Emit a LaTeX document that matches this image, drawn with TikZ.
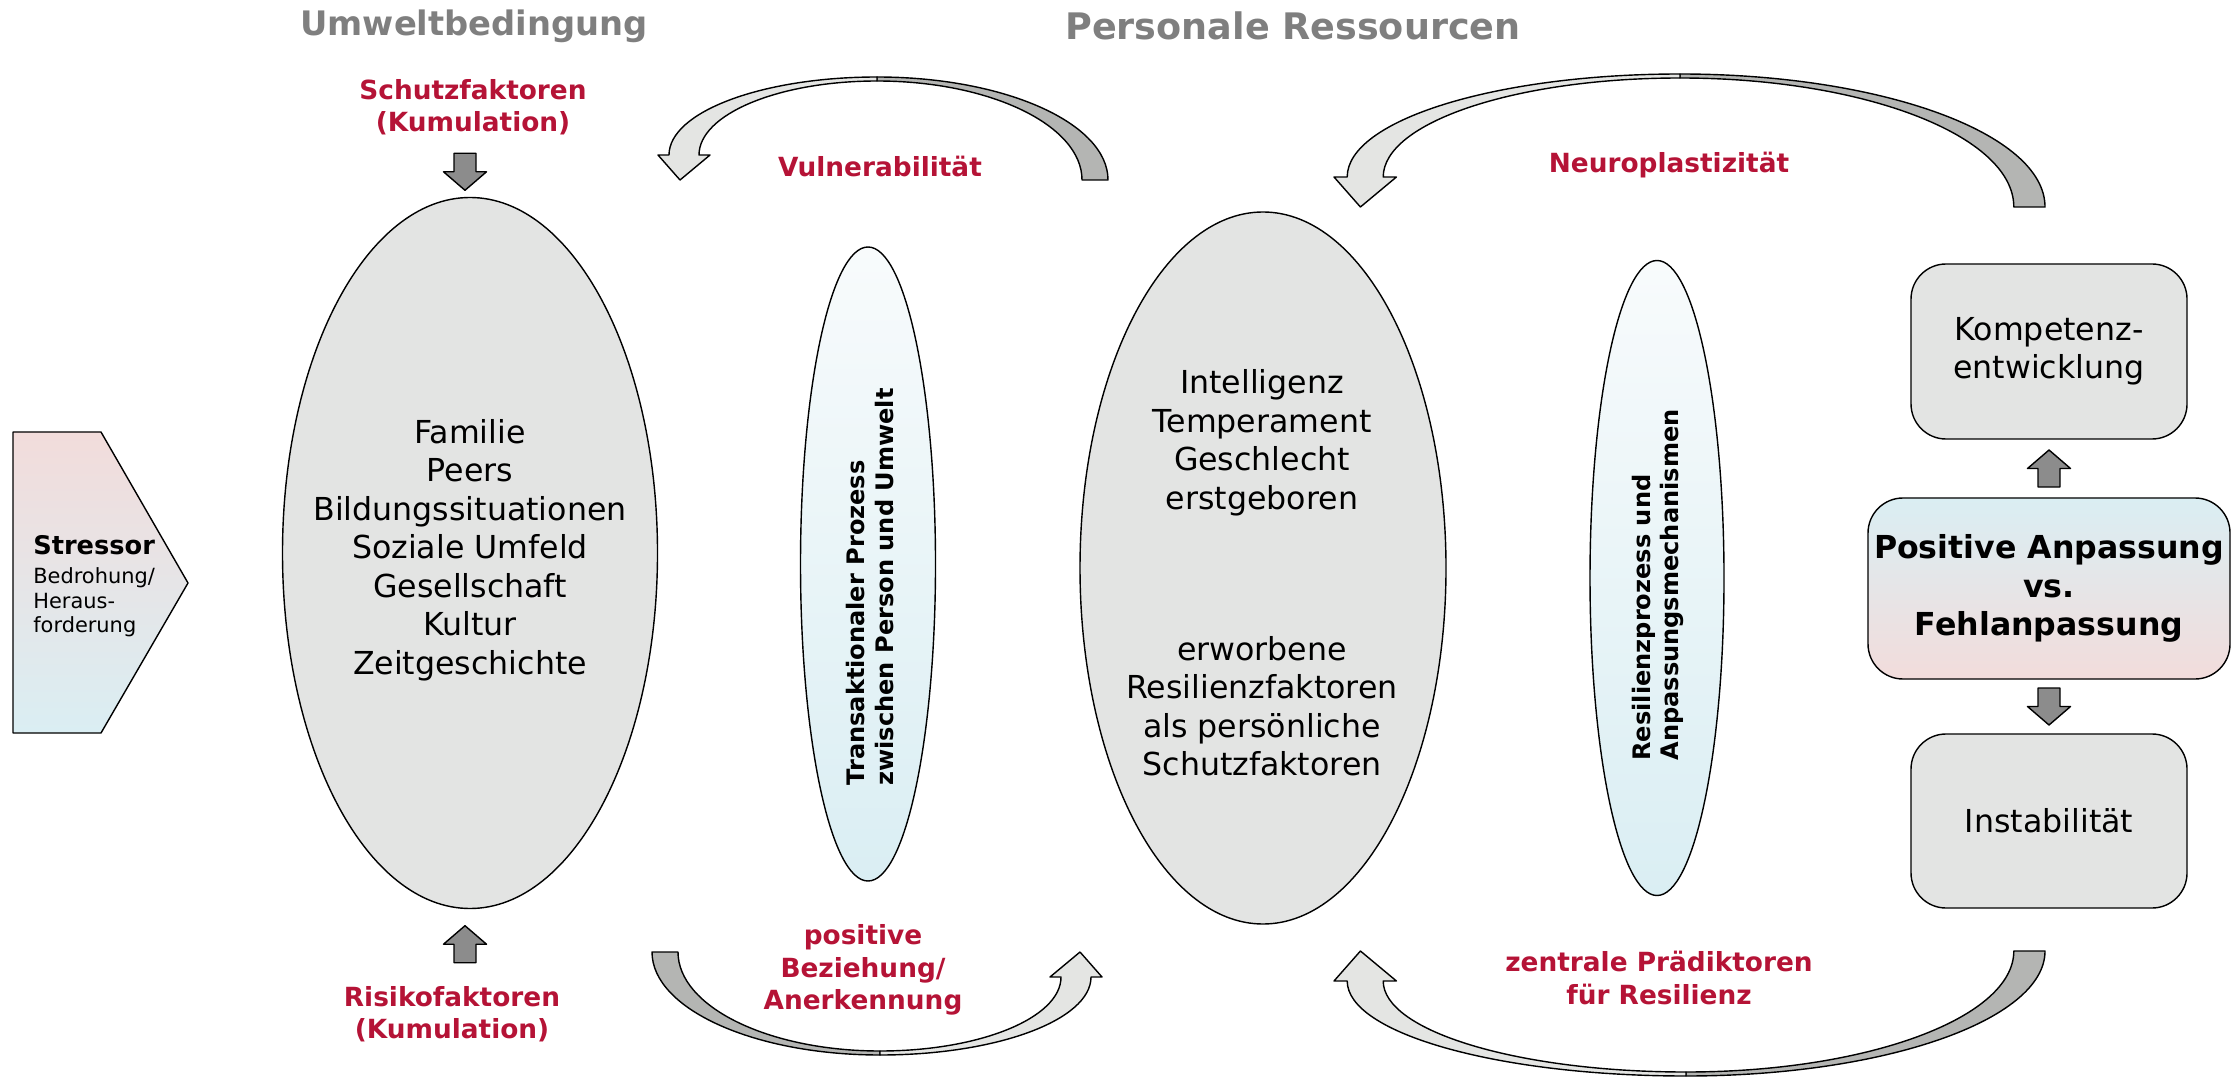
\documentclass[tikz,border=0pt]{standalone}
\usepackage{fontspec}
\setmainfont{DejaVu Sans}
\usetikzlibrary{shapes.geometric,calc}

\definecolor{crimson}{RGB}{181,19,54}
\definecolor{headgray}{RGB}{127,127,127}
\definecolor{ovalgray}{RGB}{227,228,227}
\definecolor{bandlight}{RGB}{228,229,227}
\definecolor{banddark}{RGB}{180,181,179}
\definecolor{blockgray}{RGB}{140,140,140}
\definecolor{paleblue}{RGB}{218,238,243}
\definecolor{palepink}{RGB}{242,220,219}
\definecolor{iceblue}{RGB}{248,251,252}

\newcommand{\fsz}[2]{\fontsize{#1}{#2}\selectfont}

% Curved band arrow: dark tail half, light head half.
% #1 transform, #2 width, #3 height, #4 apex x, #5 head scale
\newcommand{\bentarrow}[5]{%
  \begin{scope}[#1]
    \pgfmathsetmacro{\bW}{#2}%
    \pgfmathsetmacro{\bH}{#3}%
    \pgfmathsetmacro{\bX}{#4}%
    \pgfmathsetmacro{\bS}{#5}%
    \pgfmathsetmacro{\bT}{26*\bS}%
    \pgfmathsetmacro{\bHH}{25*\bS}%
    \pgfmathsetmacro{\bHW}{11*\bS}%
    \pgfmathsetmacro{\bXO}{\bHW}%
    \pgfmathsetmacro{\bXI}{\bHW+30*\bS}%
    \pgfmathsetmacro{\bHB}{\bH-\bHH}%
    \pgfmathsetmacro{\bD}{4}%
    \pgfmathsetmacro{\bWT}{\bW-\bT}%
    \pgfmathsetmacro{\cA}{0.4477*\bH}%
    \pgfmathsetmacro{\cB}{\bX+0.5523*(\bW-\bX)}%
    \pgfmathsetmacro{\cC}{\bX+0.5523*(\bWT-\bX)}%
    \pgfmathsetmacro{\cD}{\bH-0.5523*(\bH-\bD)}%
    \pgfmathsetmacro{\cE}{\bX-0.5523*(\bX-\bXO)}%
    \pgfmathsetmacro{\cF}{0.4477*\bHB}%
    \pgfmathsetmacro{\cG}{\bHB-0.5523*(\bHB-\bD)}%
    \pgfmathsetmacro{\cH}{\bX-0.5523*(\bX-\bXI)}%
    \pgfmathsetmacro{\bTip}{(\bXI+\bHW)/2-4*\bS}%
    \pgfmathsetmacro{\bWing}{\bXI+\bHW}%
    \filldraw[bandback] (\bW,\bH) .. controls (\bW,\cA) and (\cB,0) .. (\bX,0)
      -- (\bX,\bD) .. controls (\cC,\bD) and (\bWT,\cD) .. (\bWT,\bH) -- cycle;
    \filldraw[bandfront] (\bX,0) .. controls (\cE,0) and (\bXO,\cF) .. (\bXO,\bHB)
      -- (0,\bHB) -- (\bTip,\bH) -- (\bWing,\bHB) -- (\bXI,\bHB)
      .. controls (\bXI,\cG) and (\cH,\bD) .. (\bX,\bD) -- cycle;
  \end{scope}}

\tikzset{
  outline/.style={draw=black, line width=0.8pt, line join=round},
  bandback/.style={outline, fill=banddark},
  bandfront/.style={outline, fill=bandlight},
  blockstyle/.style={outline, fill=blockgray},
  blockdown/.pic={\filldraw[blockstyle] (-11,-18.5) -- (11,-18.5) -- (11,0) -- (21.5,0)
      -- (0,18.5) -- (-21.5,0) -- (-11,0) -- cycle;},
  header/.style={text=headgray, font=\bfseries\fsz{20}{24}},
  redlabel/.style={text=crimson, font=\bfseries\fsz{15}{18.5}, align=center},
  bigoval/.style={ellipse, outline, fill=ovalgray, inner sep=0pt},
  ovaltext/.style={align=center, inner sep=0pt, font=\fsz{18}{21.9}},
  thinoval/.style={ellipse, outline, top color=iceblue, bottom color=paleblue, inner sep=0pt},
  vlabel/.style={rotate=90, align=left, font=\bfseries\fsz{13.7}{16.3}, inner sep=0pt},
  rbox/.style={rectangle, rounded corners=7mm, outline, fill=ovalgray, align=center,
      inner sep=0pt, font=\fsz{18}{21.9}},
}

\begin{document}
\begin{tikzpicture}[x=0.2mm, y=-0.2mm]
\useasboundingbox (0,0) rectangle (2236,1080);

% column headings
\node[header, font=\bfseries\fsz{19.2}{24}] (hum) at (474,26) {Umweltbedingung};
\node[header, font=\bfseries\fsz{20.8}{24}] (hpr) at (1293,26) {Personale Ressourcen};

% stressor pentagon
\path[outline, top color=palepink, bottom color=paleblue]
  (13,432) -- (101,432) -- (188,583) -- (101,733) -- (13,733) -- cycle;
\node[anchor=west, align=left, inner sep=0pt, font=\fsz{11.9}{13.9}] (stressor) at (33,586)
  {{\bfseries\fsz{14.6}{13.9}Stressor}\\[3pt]Bedrohung/\\Heraus-\\forderung};

% environment oval
\node[bigoval, minimum width=75mm, minimum height=142.2mm] (env) at (470,553) {};
\node[ovaltext] (envtxt) at (470,550)
  {Familie\\Peers\\Bildungssituationen\\Soziale Umfeld\\Gesellschaft\\Kultur\\Zeitgeschichte};

% transactional process oval
\node[thinoval, minimum width=27mm, minimum height=126.8mm] (trans) at (868,564) {};
\node[vlabel] (transtxt) at (870,587) {Transaktionaler Prozess\\zwischen Person und Umwelt};

% personal resources oval
\node[bigoval, minimum width=73.2mm, minimum height=142.4mm] (pers) at (1263,568) {};
\node[ovaltext] (perstxt) at (1262,573)
  {Intelligenz\\Temperament\\Geschlecht\\erstgeboren\\[64pt]erworbene\\Resilienzfaktoren\\als persönliche\\Schutzfaktoren};

% resilience process oval
\node[thinoval, minimum width=26.8mm, minimum height=127mm] (resil) at (1657,578) {};
\node[vlabel] (resiltxt) at (1658,585) {Resilienzprozess und\\Anpassungsmechanismen};

% outcome boxes
\node[rbox, minimum width=55.2mm, minimum height=35mm] (komp) at (2049,351.5) {Kompetenz-\\entwicklung};
\node[rbox, minimum width=72.4mm, minimum height=36.2mm, top color=paleblue, bottom color=palepink,
      font=\bfseries\fsz{18}{21.9}] (adapt) at (2049,588.5) {Positive Anpassung\\vs.\\Fehlanpassung};
\node[rbox, minimum width=55.2mm, minimum height=34.8mm] (inst) at (2049,821) {Instabilität};

% red labels
\node[redlabel] (schutz) at (473,107) {Schutzfaktoren\\(Kumulation)};
\node[redlabel] (risiko) at (452,1014) {Risikofaktoren\\(Kumulation)};
\node[redlabel] (vuln) at (880,166) {Vulnerabilität};
\node[redlabel] (bez) at (863,970) {positive\\Beziehung/\\Anerkennung};
\node[redlabel] (neuro) at (1669,165) {Neuroplastizität};
\node[redlabel] (praed) at (1659,978) {zentrale Prädiktoren\\für Resilienz};

% small block arrows
\pic at ($(env.north)+(-5,-25)$) {blockdown};
\pic[rotate=180] at ($(env.south)+(-5,35)$) {blockdown};
\pic[rotate=180] at ($(adapt.north)!0.5!(komp.south)$) {blockdown};
\pic at ($(adapt.south)!0.5!(inst.north)$) {blockdown};

% curved feedback arrows
\bentarrow{shift={(658,77)}}{450}{103}{219}{1}
\bentarrow{shift={(1334,74)}}{711}{133}{346}{1.2}
\bentarrow{shift={(1102,1055)},rotate=180}{450}{103}{222}{1}
\bentarrow{shift={(1334,1076)},yscale=-1}{711}{125}{352}{1.2}
\end{tikzpicture}
\end{document}
